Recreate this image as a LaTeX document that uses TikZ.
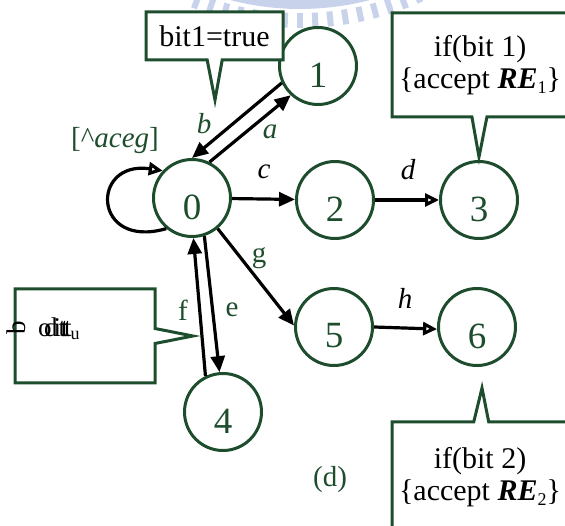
\documentclass[tikz,border=0pt]{standalone}
\usepackage{fontspec}
\setmainfont{Liberation Serif}
\usetikzlibrary{arrows.meta,shapes.callouts,calc}
\definecolor{grn}{RGB}{30,77,45}
\definecolor{wmark}{RGB}{200,210,234}
\newcommand{\fsz}[1]{\fontsize{#1}{#1}\selectfont}
\newcommand{\REsub}[1]{{\bfseries\itshape RE}\raisebox{-5pt}{\fsz{18}#1}}
\begin{document}
\begin{tikzpicture}[x=1pt,y=-1pt,
  state/.style={circle,draw=grn,line width=3pt,minimum size=77pt,inner sep=0pt},
  num/.style={text=grn,font=\fsz{37},yshift=-9pt},
  edge/.style={line width=3.2pt,-{Triangle[length=16pt,width=14pt]}},
  oedge/.style={line width=3.2pt,-{Triangle[open,length=14pt,width=13pt,fill=white]}},
  glab/.style={text=grn,font=\fsz{29}},
  blab/.style={font=\fsz{29}\itshape},
  note/.style={rectangle callout,draw=grn,line width=3pt,fill=white,
    font=\fsz{30},align=center,callout pointer width=15pt,inner sep=0pt}]
\useasboundingbox (0,0) rectangle (565,526);
\begin{scope}
\clip (0,0) rectangle (565,526);

% faint emblem behind the top edge
\coordinate (wc) at (300,-268);
\fill[wmark] plot[domain=62:116,samples=40] ({300+277*cos(\x)},{-268+277*sin(\x)})
  -- plot[domain=116:62,samples=40] ({300+250*cos(\x)},{-268+250*sin(\x)}) -- cycle;
\foreach \a in {66,69,...,111}
  \draw[wmark,line width=6pt] ($(wc)+(\a:281)$) -- ($(wc)+(\a:296)$);

% states
\node[state,label={[num]center:0}] (n0) at (192,198) {};
\node[state,label={[num]center:1}] (n1) at (318,66) {};
\node[state,label={[num]center:2}] (n2) at (335,200) {};
\node[state,label={[num]center:3}] (n3) at (479,200) {};
\node[state,label={[num]center:5}] (n5) at (334,327) {};
\node[state,label={[num]center:6}] (n6) at (477,327) {};
\node[state,label={[num]center:4}] (n4) at (223,412) {};

% transitions
\draw[edge] (n0.64) -- (n1.227);
\draw[edge] (n1.205) -- (n0.90);
\draw[edge] (n0) -- (n2);
\draw[oedge] (n2) -- (n3);
\draw[edge] (n0.-50) -- (n5.178);
\draw[oedge] (n5.0) -- (n6.183);
\draw[edge] (n0.-72) -- (n4.95);
\draw[edge] (n4.116) -- (n0.-88);
\draw[oedge] (n0.-130) .. controls (92,250) and (90,160) .. (n0.137);

% transition labels
\node[glab] (lb) at (204,124) {\textit{b}};
\node[glab] (la) at (270,132) {\textit{a}};
\node[glab] (lsel) at (115,141) {[\textasciicircum\textit{aceg}]};
\node[blab] (lc) at (264,172) {c};
\node[blab] (ld) at (408,170) {d};
\node[glab] (lg) at (259,258) {g};
\node[glab] (le) at (232,310) {e};
\node[glab] (lf) at (183,310) {f};
\node[blab] (lh) at (405,298) {h};
\node[glab] (cap) at (330,480) {(d)};

% annotations
\node[note,minimum width=137pt,minimum height=48pt,
  callout absolute pointer={(215,100)}] (box1) at (214.5,36) {bit1=true};
\node[note,minimum width=176pt,minimum height=104pt,
  callout absolute pointer={(479,157)}] (box2) at (480,65)
  {if(bit 1)\\[2pt]\{accept \REsub{1}\}};
\node[note,minimum width=176pt,minimum height=110pt,
  callout absolute pointer={(482,388)}] (box3) at (480,477)
  {if(bit 2)\\[2pt]\{accept \REsub{2}\}};
\node[note,minimum width=140pt,minimum height=94pt,
  callout absolute pointer={(193,336)}] (box4) at (85,336) {};
\node[anchor=west,font=\fsz{27},inner sep=0pt] (gtxt) at (7,329)
  {\rotatebox[origin=c]{90}{b}\kern12pt\rlap{o}\kern6pt d\kern-4pt\rlap{it}\kern5pt t\kern-2pt t\kern-1pt\raisebox{-3pt}{\fsz{18}u}};
\end{scope}
\end{tikzpicture}
\end{document}
